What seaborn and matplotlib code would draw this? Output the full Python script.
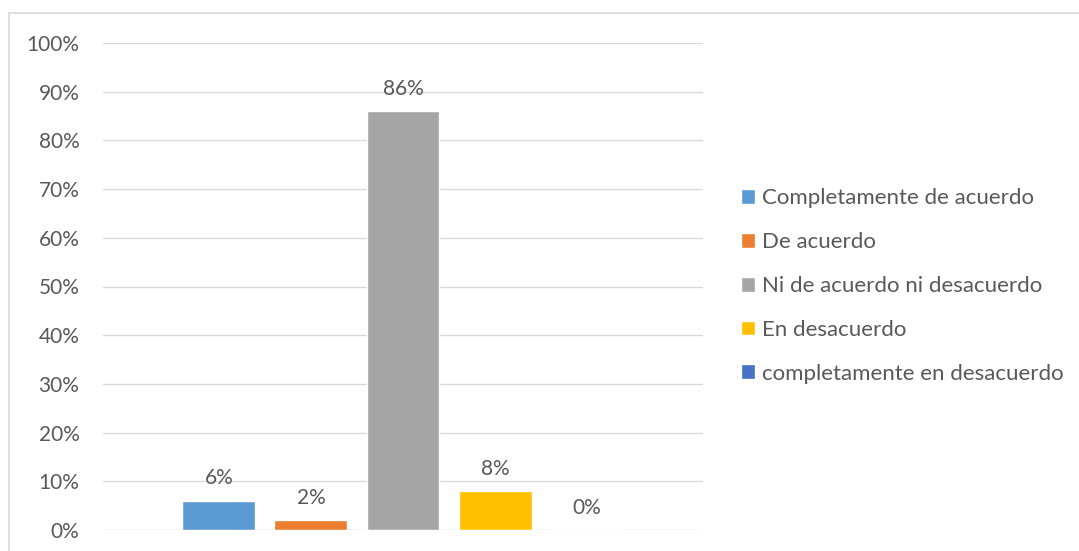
import matplotlib
matplotlib.use("Agg")
import matplotlib.pyplot as plt
import seaborn as sns
import pandas as pd
from matplotlib.patches import Rectangle
from matplotlib.ticker import FuncFormatter

# data
respuestas = ["Completamente de acuerdo", "De acuerdo", "Ni de acuerdo ni desacuerdo",
              "En desacuerdo", "completamente en desacuerdo"]
porcentajes = [6, 2, 86, 8, 0]
colores = ["#5B9BD5", "#ED7D31", "#A5A5A5", "#FFC000", "#4472C4"]
ticks_y = [0, 10, 20, 30, 40, 50, 60, 70, 80, 90, 100]

df = pd.DataFrame({"grupo": [""] * len(respuestas), "respuesta": respuestas, "valor": porcentajes})

sns.set_style("white")
plt.rcParams["font.family"] = ["Lato", "DejaVu Sans"]
gris = "#595959"

fig = plt.figure(figsize=(10.79, 5.51), dpi=100)
ax = fig.add_axes([103 / 1079, 21 / 551, 600 / 1079, 487 / 551])

sns.barplot(data=df, x="grupo", y="valor", hue="respuesta", hue_order=respuestas,
            palette=colores, width=0.767, gap=0.207, saturation=1, ax=ax)

for cont in ax.containers:
    ax.bar_label(cont, fmt="%.0f%%", padding=9, fontsize=15, color=gris)

ax.set_ylim(0, 100)
ax.set_xlim(-0.5, 0.5)
ax.set_yticks(ticks_y)
ax.yaxis.set_major_formatter(FuncFormatter(lambda v, p: f"{v:.0f}%"))
ax.tick_params(axis="y", length=0, pad=17, labelsize=15, labelcolor=gris)
ax.set_xticks([])
ax.set_xlabel("")
ax.set_ylabel("")
ax.yaxis.grid(True, color="#d9d9d9", linewidth=1)
ax.set_axisbelow(True)
for s in ax.spines.values():
    s.set_visible(False)

h, l = ax.get_legend_handles_labels()
ax.legend_.remove()
fig.legend(h, l, loc="center left", bbox_to_anchor=(721 / 1079, 1 - 286 / 551),
           frameon=False, fontsize=16, labelcolor=gris, handlelength=0.65,
           handleheight=0.65, handletextpad=0.3, labelspacing=1.07)

fig.patches.append(Rectangle((9 / 1079, -0.05), 1.1, 1 - 13 / 551 + 0.05,
                             transform=fig.transFigure, fill=False,
                             edgecolor="#d9d9d9", linewidth=1.2))

fig.savefig("out.png", dpi=100)
